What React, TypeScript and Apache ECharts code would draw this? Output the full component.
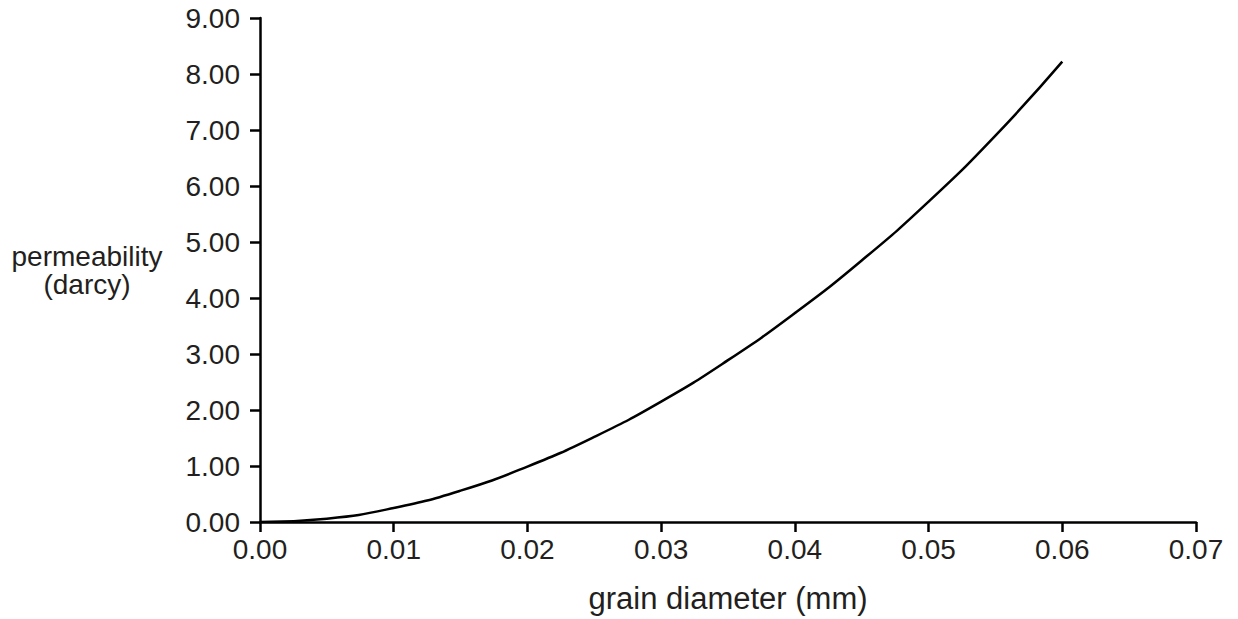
import React, { useEffect, useRef } from "react";
import * as echarts from "echarts";

const grainDiameter = [0, 0.005, 0.01, 0.015, 0.02, 0.025, 0.03, 0.035, 0.04, 0.045, 0.05, 0.055, 0.06];
const permeability = [0, 0.06, 0.25, 0.56, 0.99, 1.52, 2.15, 2.89, 3.73, 4.67, 5.72, 6.9, 8.22];
const xAxisName = "grain diameter (mm)";
const yAxisName = "permeability\n(darcy)";

const FONT = "'Liberation Sans', Arial, Helvetica, sans-serif";
const TEXT = "#231f20";

export default function App() {
  const ref = useRef<HTMLDivElement>(null);
  useEffect(() => {
    if (!ref.current) return;
    const chart = echarts.init(ref.current, null, { renderer: "svg" });
    const data = grainDiameter.map((x, i) => [x, permeability[i]]);
    chart.setOption({
      animation: false,
      backgroundColor: "#ffffff",
      grid: { left: 260, right: 42, top: 18, bottom: 97, containLabel: false },
      xAxis: {
        type: "value",
        min: 0,
        max: 0.07,
        interval: 0.01,
        name: xAxisName,
        nameLocation: "middle",
        nameGap: 61,
        nameTextStyle: { fontFamily: FONT, fontSize: 31, color: TEXT },
        axisLine: { show: true, lineStyle: { color: "#000", width: 2.5 } },
        axisTick: { show: true, inside: false, length: 10, lineStyle: { color: "#000", width: 2.5 } },
        axisLabel: {
          margin: 13,
          fontFamily: FONT,
          fontSize: 28,
          color: TEXT,
          formatter: (v: number) => v.toFixed(2),
        },
        splitLine: { show: false },
      },
      yAxis: {
        type: "value",
        min: 0,
        max: 9,
        interval: 1,
        name: yAxisName,
        nameLocation: "middle",
        nameRotate: 0,
        nameGap: 173,
        nameTextStyle: {
          fontFamily: FONT,
          fontSize: 28,
          color: TEXT,
          align: "center",
          lineHeight: 28,
          padding: [0, 0, 14, 0],
        },
        axisLine: { show: true, lineStyle: { color: "#000", width: 2.5 } },
        axisTick: { show: true, inside: false, length: 10, lineStyle: { color: "#000", width: 2.5 } },
        axisLabel: {
          margin: 20,
          fontFamily: FONT,
          fontSize: 28,
          color: TEXT,
          formatter: (v: number) => v.toFixed(2),
        },
        splitLine: { show: false },
      },
      series: [
        {
          type: "line",
          data,
          smooth: 0.5,
          showSymbol: false,
          symbol: "none",
          lineStyle: { color: "#000", width: 2.5 },
        },
      ],
    });
    return () => chart.dispose();
  }, []);
  return (
    <div
      ref={ref}
      style={{ position: "fixed", left: 0, top: 0, width: 1238, height: 619, background: "#fff" }}
    />
  );
}
